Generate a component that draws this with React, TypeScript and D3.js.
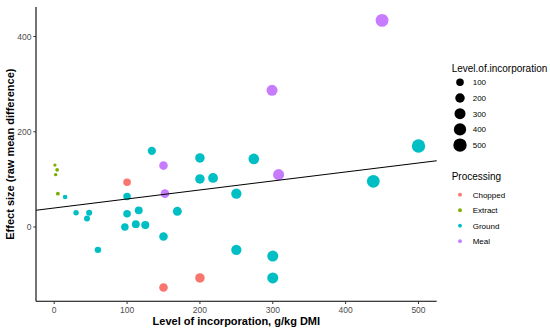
import React from "react";
import * as d3 from "d3";

// processing groups and their ggplot hue colours
const processing = ["Chopped", "Extract", "Ground", "Meal"];
const processingColors = ["#F8766D", "#7CAE00", "#00BFC4", "#C77CFF"];

// [level of incorporation, effect size]
const chopped = [[100, 94], [200, -107], [150, -127]];
const extract = [[1, 130], [4, 120], [2, 110], [5, 70]];
const ground = [
  [15, 63], [30, 30], [48, 30], [45, 18], [60, -48], [100, 64], [100, 28],
  [97, 0], [112, 6], [116, 35], [125, 4], [150, -20], [169, 33], [200, 101],
  [218, 103], [250, 70], [250, -48], [300, -61], [300, -107], [134, 160],
  [200, 145], [274, 143], [438, 96], [500, 170],
];
const meal = [[150, 129], [152, 70], [299, 287], [450, 434], [308, 110]];

const sizeBreaks = [100, 200, 300, 400, 500];
const xTicks = [0, 100, 200, 300, 400, 500];
const yTicks = [0, 200, 400];

// fitted linear trend
const fitIntercept = 40;
const fitSlope = 0.189;

const font = "'Liberation Sans', Arial, sans-serif";

export default function App() {
  const left = 36, right = 436.7, top = 7, bottom = 301.3;

  const x = d3.scaleLinear().domain([-25, 525]).range([left, right]);
  const y = d3.scaleLinear().domain([-156, 462]).range([bottom, top]);
  const r = d3.scaleSqrt().domain([0, 500]).range([1.4, 6.7]);

  const groups = [chopped, extract, ground, meal];
  const [x0, x1] = x.domain();
  const line = d3.line<number>().x(v => x(v)).y(v => y(fitIntercept + fitSlope * v));

  return (
    <svg width={550} height={331} style={{ position: "absolute", left: 0, top: 0, background: "#fff" }} fontFamily={font}>
      {groups.map((pts, gi) =>
        pts.map((p, i) => (
          <circle key={gi + "-" + i} cx={x(p[0])} cy={y(p[1])} r={r(p[0])} fill={processingColors[gi]} />
        ))
      )}
      <path d={line([x0, x1]) || ""} stroke="#000" strokeWidth={1.1} fill="none" />

      {/* axes */}
      <line x1={left} x2={left} y1={top} y2={bottom} stroke="#000" strokeWidth={1.1} />
      <line x1={left} x2={right} y1={bottom} y2={bottom} stroke="#000" strokeWidth={1.1} />
      {yTicks.map(t => (
        <g key={"y" + t}>
          <line x1={left - 2.7} x2={left} y1={y(t)} y2={y(t)} stroke="#333" />
          <text x={left - 4.5} y={y(t)} dy="0.35em" textAnchor="end" fontSize={8.5} fill="#4D4D4D">{t}</text>
        </g>
      ))}
      {xTicks.map(t => (
        <g key={"x" + t}>
          <line x1={x(t)} x2={x(t)} y1={bottom} y2={bottom + 2.7} stroke="#333" />
          <text x={x(t)} y={310} dy="0.35em" textAnchor="middle" fontSize={8.5} fill="#4D4D4D">{t}</text>
        </g>
      ))}
      <text x={(left + right) / 2} y={325} textAnchor="middle" fontSize={11} fontWeight="bold">
        Level of incorporation, g/kg DMI
      </text>
      <text transform={`translate(14, ${(top + bottom) / 2}) rotate(-90)`} textAnchor="middle" fontSize={11} fontWeight="bold">
        Effect size (raw mean difference)
      </text>

      {/* size legend */}
      <text x={451.7} y={71.5} fontSize={10}>Level.of.incorporation</text>
      {sizeBreaks.map((b, i) => (
        <g key={"s" + b}>
          <circle cx={460} cy={82.3 + i * 15.7} r={r(b)} fill="#000" />
          <text x={472.7} y={82.3 + i * 15.7} dy="0.35em" fontSize={8}>{b}</text>
        </g>
      ))}

      {/* processing legend */}
      <text x={451.7} y={180} fontSize={10}>Processing</text>
      {processing.map((p, i) => (
        <g key={p}>
          <circle cx={460} cy={194.7 + i * 15.5} r={1.9} fill={processingColors[i]} />
          <text x={472.7} y={194.7 + i * 15.5} dy="0.35em" fontSize={8}>{p}</text>
        </g>
      ))}
    </svg>
  );
}
